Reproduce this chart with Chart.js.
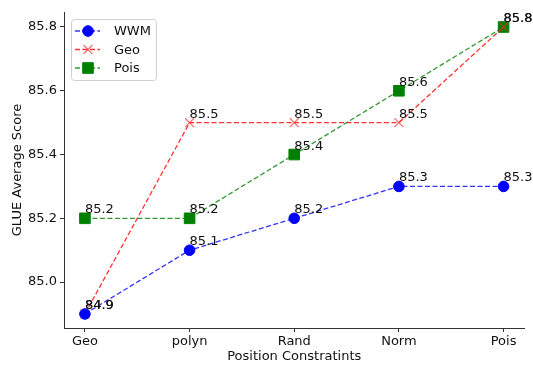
<!DOCTYPE html>
<html>
<head>
<meta charset="utf-8">
<script src="https://cdn.jsdelivr.net/npm/chart.js@4.4.1/dist/chart.umd.min.js"></script>
<style>
  html, body { margin: 0; padding: 0; background: #fff; }
  #wrap { width: 533px; height: 365px; }
</style>
</head>
<body>
<div id="wrap"><canvas id="chart"></canvas></div>
<script>
// ---- data ----
var categories = ['Geo', 'polyn', 'Rand', 'Norm', 'Pois'];
var wwmScores = [84.9, 85.1, 85.2, 85.3, 85.3];
var geoScores = [84.9, 85.5, 85.5, 85.5, 85.8];
var poisScores = [85.2, 85.2, 85.4, 85.6, 85.8];
var yTicks = [85.0, 85.2, 85.4, 85.6, 85.8];

var FONT = 'DejaVu Sans';
var TEXT = '#111';

function toPoints(arr) {
    return arr.map(function(v, i) { return { x: i, y: v }; });
}

// value labels next to each point
var valueLabels = {
    id: 'valueLabels',
    afterDatasetsDraw: function(chart) {
        var ctx = chart.ctx;
        ctx.save();
        ctx.font = '13px "' + FONT + '"';
        ctx.fillStyle = TEXT;
        ctx.textAlign = 'left';
        ctx.textBaseline = 'alphabetic';
        chart.data.datasets.forEach(function(ds, di) {
            var meta = chart.getDatasetMeta(di);
            meta.data.forEach(function(el, i) {
                ctx.fillText(ds.data[i].y.toFixed(1), el.x, el.y - 5);
            });
        });
        ctx.restore();
    }
};

// matplotlib style legend box (line + marker)
var mplLegend = {
    id: 'mplLegend',
    afterDraw: function(chart) {
        var ctx = chart.ctx;
        var x0 = 71, y0 = 19, w = 85, h = 61;
        ctx.save();
        ctx.fillStyle = 'rgba(255,255,255,0.8)';
        ctx.strokeStyle = '#d0d0d0';
        ctx.lineWidth = 1;
        ctx.beginPath();
        ctx.roundRect(x0 + 0.5, y0 + 0.5, w, h, 3);
        ctx.fill();
        ctx.stroke();
        chart.data.datasets.forEach(function(ds, i) {
            var y = 31 + i * 18.5;
            ctx.strokeStyle = ds.borderColor;
            ctx.lineWidth = ds.borderWidth;
            ctx.setLineDash(ds.borderDash);
            ctx.beginPath();
            ctx.moveTo(75, y);
            ctx.lineTo(100, y);
            ctx.stroke();
            ctx.setLineDash([]);
            ctx.fillStyle = ds.pointBackgroundColor;
            ctx.strokeStyle = ds.pointBorderColor;
            ctx.lineWidth = ds.pointBorderWidth;
            Chart.helpers.drawPoint(ctx, { pointStyle: ds.pointStyle, radius: ds.pointRadius, borderWidth: ds.pointBorderWidth }, 88, y);
            ctx.fillStyle = TEXT;
            ctx.font = '13px "' + FONT + '"';
            ctx.textAlign = 'left';
            ctx.textBaseline = 'middle';
            ctx.fillText(ds.label, 114, y + 1);
        });
        ctx.restore();
    }
};

var ctx = document.getElementById('chart').getContext('2d');
var chart = new Chart(ctx, {
    type: 'line',
    data: {
        datasets: [{
            label: 'WWM',
            data: toPoints(wwmScores),
            borderColor: 'rgba(0,0,255,0.8)',
            borderWidth: 1.3,
            borderDash: [5, 2.5],
            pointStyle: 'circle',
            pointRadius: 5.3,
            pointBackgroundColor: '#0000ff',
            pointBorderColor: '#0000ff',
            pointBorderWidth: 1
        }, {
            label: 'Geo',
            data: toPoints(geoScores),
            borderColor: 'rgba(255,0,0,0.8)',
            borderWidth: 1.3,
            borderDash: [5, 2.5],
            pointStyle: 'crossRot',
            pointRadius: 6.3,
            pointBackgroundColor: 'rgba(255,0,0,0.6)',
            pointBorderColor: 'rgba(255,40,40,0.65)',
            pointBorderWidth: 1.3
        }, {
            label: 'Pois',
            data: toPoints(poisScores),
            borderColor: 'rgba(0,128,0,0.8)',
            borderWidth: 1.3,
            borderDash: [5, 2.5],
            pointStyle: 'rect',
            pointRadius: 7.5,
            pointBackgroundColor: '#008000',
            pointBorderColor: '#008000',
            pointBorderWidth: 1
        }]
    },
    options: {
        responsive: true,
        maintainAspectRatio: false,
        animation: false,
        events: [],
        layout: { padding: { left: 0, right: 3.5, top: 12, bottom: 0 } },
        plugins: {
            legend: { display: false },
            tooltip: { enabled: false }
        },
        scales: {
            x: {
                type: 'linear',
                min: -0.2,
                max: 4.2,
                afterBuildTicks: function(scale) {
                    scale.ticks = categories.map(function(c, i) { return { value: i }; });
                },
                afterFit: function(scale) {
                    scale.height = 37;
                    scale.paddingLeft = 0;
                    scale.paddingRight = 0;
                },
                ticks: {
                    color: TEXT,
                    font: { family: FONT, size: 13 },
                    padding: 2,
                    maxRotation: 0,
                    autoSkip: false,
                    callback: function(v) { return categories[v]; }
                },
                grid: { drawOnChartArea: false, drawTicks: true, tickLength: 4, color: '#333' },
                border: { display: true, color: '#333', width: 1 },
                title: {
                    display: true,
                    text: 'Position Constratints',
                    color: TEXT,
                    font: { family: FONT, size: 13 },
                    padding: { top: 0, bottom: 1 }
                }
            },
            y: {
                min: 84.856,
                max: 85.847,
                afterBuildTicks: function(scale) {
                    scale.ticks = yTicks.map(function(v) { return { value: v }; });
                },
                afterFit: function(scale) {
                    scale.width = 64;
                    scale.paddingTop = 0;
                    scale.paddingBottom = 0;
                },
                ticks: {
                    color: TEXT,
                    font: { family: FONT, size: 13 },
                    padding: 3,
                    callback: function(v) { return v.toFixed(1); }
                },
                grid: { drawOnChartArea: false, drawTicks: true, tickLength: 4, color: '#333' },
                border: { display: true, color: '#333', width: 1 },
                title: {
                    display: true,
                    text: 'GLUE Average Score',
                    color: TEXT,
                    font: { family: FONT, size: 13 },
                    padding: { top: 10, bottom: 0 }
                }
            }
        }
    },
    plugins: [valueLabels, mplLegend]
});
</script>
</body>
</html>
